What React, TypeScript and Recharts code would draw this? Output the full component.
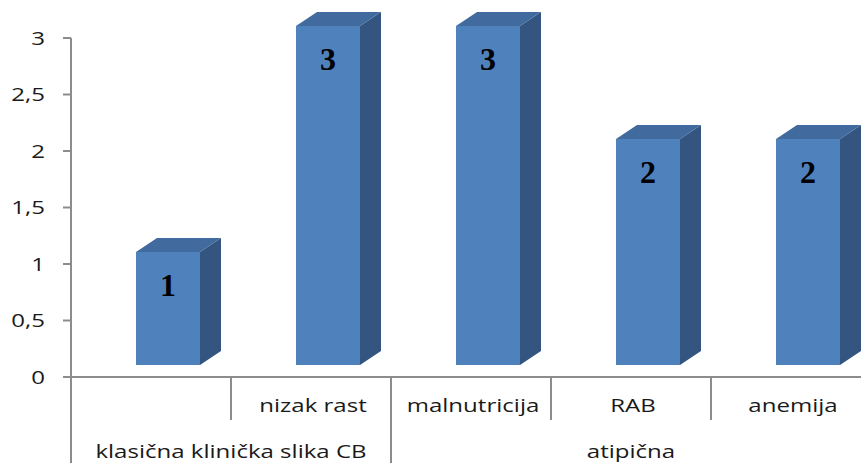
import React from "react";
import { BarChart, Bar, XAxis, YAxis, LabelList } from "recharts";

// ---- data ----
const categories = ["", "nizak rast", "malnutricija", "RAB", "anemija"];
const groups = [
  "klasična klinička slika CB",
  "klasična klinička slika CB",
  "atipična",
  "atipična",
  "atipična",
];
const values = [1, 3, 3, 2, 2];
const yTicks = [0, 0.5, 1, 1.5, 2, 2.5, 3];

const data = categories.map((name, i) => ({ name, group: groups[i], value: values[i] }));

// ---- layout / style ----
const CHART_W = 880;
const CHART_H = 463;
const Y_W = 71;
const M_RIGHT = 9;
const M_TOP = 38;
const X_H = 86;
const PLOT_W = CHART_W - Y_W - M_RIGHT;
const BAND = PLOT_W / categories.length;

const FRONT = "#4F81BD";
const TOP = "#416A9E";
const SIDE = "#34557F";
const AXIS = "#8c8c8c";
const TEXT = "#1a1a1a";
const FONT = "'Open Sans', 'DejaVu Sans', sans-serif";
const FONT_SIZE = 18.5;
const STRETCH = 1.3;

// 3D offsets
const DX = 17;
const DY = 12;
const DEPTH_X = 21;
const DEPTH_Y = 14;

const Bar3D = (props: any) => {
  const { x, y, width, height } = props;
  if (height == null || width == null) return null;
  const fx = x + DX;
  const fy = y - DY;
  const fb = y + height - DY;
  const top = `${fx},${fy} ${fx + DEPTH_X},${fy - DEPTH_Y} ${fx + width + DEPTH_X},${fy - DEPTH_Y} ${fx + width},${fy}`;
  const side = `${fx + width},${fy} ${fx + width + DEPTH_X},${fy - DEPTH_Y} ${fx + width + DEPTH_X},${fb - DEPTH_Y} ${fx + width},${fb}`;
  return (
    <g>
      <polygon points={side} fill={SIDE} />
      <polygon points={top} fill={TOP} />
      <rect x={fx} y={fy} width={width} height={height} fill={FRONT} />
    </g>
  );
};

const BarLabel = (props: any) => {
  const { x, y, width, value } = props;
  return (
    <text
      x={x + DX + width / 2}
      y={y - DY + 33}
      textAnchor="middle"
      dominantBaseline="central"
      fontFamily="'Liberation Serif', 'Times New Roman', serif"
      fontWeight="bold"
      fontSize={32}
      fill="#000"
    >
      {value}
    </text>
  );
};

const YTick = (props: any) => {
  const { x, y, payload } = props;
  const label = String(payload.value).replace(".", ",");
  return (
    <text
      transform={`translate(${x},${y}) scale(${STRETCH},1)`}
      x={0}
      y={0}
      dy="0.36em"
      textAnchor="end"
      fontFamily={FONT}
      fontSize={FONT_SIZE}
      fill={TEXT}
    >
      {label}
    </text>
  );
};

const XTick = (props: any) => {
  const { x, y, payload } = props;
  const i: number = payload.index ?? props.index ?? 0;
  const left = x - BAND / 2;
  const groupStart = i === 0 || groups[i] !== groups[i - 1];
  let span = 0;
  if (groupStart) {
    for (let j = i; j < groups.length && groups[j] === groups[i]; j++) span++;
  }
  const lineEnd = groupStart ? y + X_H : y + 43;
  return (
    <g>
      <line x1={left} y1={y} x2={left} y2={lineEnd} stroke={AXIS} strokeWidth={2} />
      {categories[i] ? (
        <text
          transform={`translate(${x + 2},${y + 35}) scale(${STRETCH},1)`}
          x={0}
          y={0}
          textAnchor="middle"
          fontFamily={FONT}
          fontSize={FONT_SIZE}
          fill={TEXT}
        >
          {categories[i]}
        </text>
      ) : null}
      {groupStart ? (
        <text
          transform={`translate(${left + (span * BAND) / 2},${y + 81}) scale(${STRETCH},1)`}
          x={0}
          y={0}
          textAnchor="middle"
          fontFamily={FONT}
          fontSize={FONT_SIZE}
          fill={TEXT}
        >
          {groups[i]}
        </text>
      ) : null}
    </g>
  );
};

export default function App() {
  return (
    <div
      style={{
        position: "absolute",
        left: 0,
        top: 0,
        width: 861,
        height: 463,
        overflow: "hidden",
        background: "#ffffff",
      }}
    >
      <BarChart
        width={CHART_W}
        height={CHART_H}
        data={data}
        margin={{ top: M_TOP, right: M_RIGHT, bottom: 0, left: 0 }}
        barSize={64}
      >
        <YAxis
          width={Y_W}
          domain={[0, 3]}
          ticks={yTicks}
          interval={0}
          tickSize={8}
          tickMargin={18}
          axisLine={{ stroke: AXIS, strokeWidth: 2 }}
          tickLine={{ stroke: AXIS, strokeWidth: 2 }}
          tick={<YTick />}
        />
        <XAxis
          dataKey="name"
          height={X_H}
          interval={0}
          tickSize={0}
          tickMargin={0}
          tickLine={false}
          axisLine={{ stroke: AXIS, strokeWidth: 2 }}
          tick={<XTick />}
        />
        <Bar dataKey="value" shape={<Bar3D />} isAnimationActive={false}>
          <LabelList dataKey="value" content={<BarLabel />} />
        </Bar>
      </BarChart>
    </div>
  );
}
